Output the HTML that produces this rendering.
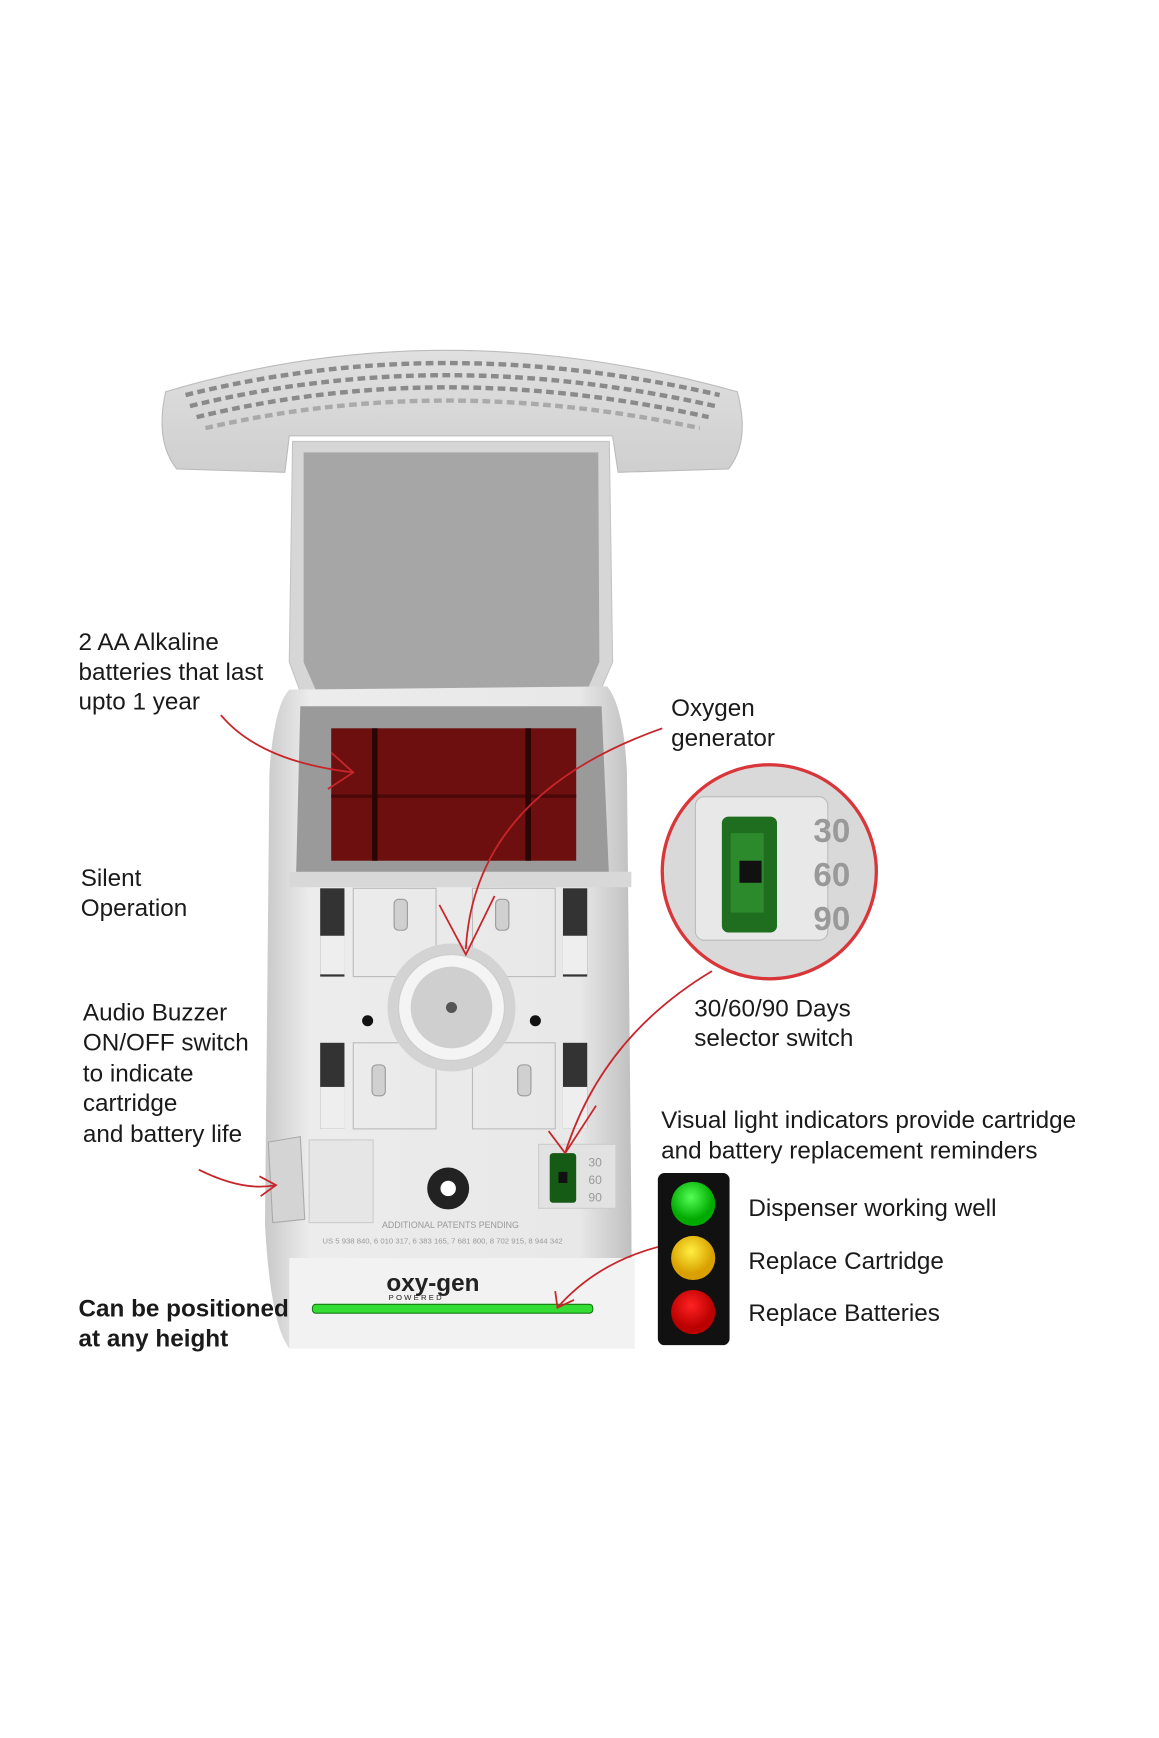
<!DOCTYPE html>
<html><head><meta charset="utf-8"><style>
html,body{margin:0;padding:0;background:#fff;}
svg{display:block;}
text{font-family:"Liberation Sans",sans-serif;fill:#1a1a1a;}
</style></head><body>
<svg width="1159" height="1738" viewBox="0 0 1050 1575" xmlns="http://www.w3.org/2000/svg">
<defs>
<linearGradient id="body" x1="0" x2="1"><stop offset="0" stop-color="#c9c9c9"/><stop offset="0.12" stop-color="#ececec"/><stop offset="0.85" stop-color="#e8e8e8"/><stop offset="1" stop-color="#bdbdbd"/></linearGradient>
<linearGradient id="grill" x1="0" y1="0" x2="0" y2="1"><stop offset="0" stop-color="#e0e0e0"/><stop offset="1" stop-color="#cfcfcf"/></linearGradient>
<radialGradient id="g" cx="0.45" cy="0.35"><stop offset="0" stop-color="#5f5"/><stop offset="1" stop-color="#0a0"/></radialGradient>
<radialGradient id="y" cx="0.45" cy="0.35"><stop offset="0" stop-color="#ffef40"/><stop offset="1" stop-color="#d9a000"/></radialGradient>
<radialGradient id="r" cx="0.45" cy="0.35"><stop offset="0" stop-color="#f22"/><stop offset="1" stop-color="#b00"/></radialGradient>
<clipPath id="cc"><circle cx="697" cy="790" r="97"/></clipPath>
</defs>
<!-- grille -->
<path d="M150 355 Q400 280 668 355 Q680 400 660 425 L560 428 L555 395 L262 395 L258 428 L160 425 Q140 400 150 355Z" fill="url(#grill)" stroke="#bbb"/>
<g stroke="#8a8a8a" stroke-width="4" fill="none">
<path d="M168 358 Q400 300 652 358" stroke-dasharray="7 4"/>
<path d="M172 368 Q400 312 648 368" stroke-dasharray="7 4"/>
<path d="M178 378 Q400 324 642 378" stroke-dasharray="7 4"/>
<path d="M186 388 Q400 338 634 388" stroke-dasharray="7 4" opacity=".6"/>
</g>
<!-- lid -->
<path d="M265 400 L552 400 L555 600 L540 635 L275 635 L262 600Z" fill="#d6d6d6" stroke="#c4c4c4"/>
<path d="M275 410 L542 410 L543 600 L530 630 L288 630 L275 600Z" fill="#a6a6a6"/>
<!-- body -->
<path d="M262 625 Q248 640 244 700 L240 1110 Q245 1200 262 1222 L575 1222 Q572 1180 572 1100 L568 700 Q565 640 550 622Z" fill="url(#body)"/>
<!-- battery compartment -->
<path d="M272 640 L545 640 L552 800 L268 800Z" fill="#9a9a9a"/>
<rect x="300" y="660" width="222" height="120" fill="#6e0f0f"/>
<rect x="300" y="720" width="222" height="3" fill="#4a0808"/>
<rect x="337" y="660" width="5" height="120" fill="#2a0505"/>
<rect x="476" y="660" width="5" height="120" fill="#2a0505"/>
<rect x="262" y="790" width="310" height="14" fill="#d8d8d8"/>
<!-- clips area -->
<rect x="290" y="805" width="22" height="80" fill="#333"/><rect x="290" y="848" width="22" height="35" fill="#eee"/>
<rect x="510" y="805" width="22" height="80" fill="#333"/><rect x="510" y="848" width="22" height="35" fill="#eee"/>
<rect x="290" y="945" width="22" height="78" fill="#333"/><rect x="290" y="985" width="22" height="38" fill="#eee"/>
<rect x="510" y="945" width="22" height="78" fill="#333"/><rect x="510" y="985" width="22" height="38" fill="#eee"/>
<rect x="320" y="805" width="75" height="80" fill="none" stroke="#bbb"/>
<rect x="428" y="805" width="75" height="80" fill="none" stroke="#bbb"/>
<rect x="320" y="945" width="75" height="78" fill="none" stroke="#bbb"/>
<rect x="428" y="945" width="75" height="78" fill="none" stroke="#bbb"/>
<rect x="357" y="815" width="12" height="28" rx="4" fill="#d0d0d0" stroke="#999"/>
<rect x="449" y="815" width="12" height="28" rx="4" fill="#d0d0d0" stroke="#999"/>
<rect x="337" y="965" width="12" height="28" rx="4" fill="#d0d0d0" stroke="#999"/>
<rect x="469" y="965" width="12" height="28" rx="4" fill="#d0d0d0" stroke="#999"/>
<circle cx="409" cy="913" r="58" fill="#d3d3d3"/>
<circle cx="409" cy="913" r="48" fill="#f4f4f4" stroke="#ccc"/>
<circle cx="409" cy="913" r="37" fill="#cfcfcf"/>
<circle cx="409" cy="913" r="5" fill="#555"/>
<circle cx="333" cy="925" r="5" fill="#111"/><circle cx="485" cy="925" r="5" fill="#111"/>
<!-- lower panel -->
<rect x="280" y="1033" width="58" height="75" fill="#e6e6e6" stroke="#ccc"/>
<path d="M243 1035 L272 1030 L276 1105 L247 1108Z" fill="#d4d4d4" stroke="#aaa"/>
<circle cx="406" cy="1077" r="19" fill="#222"/><circle cx="406" cy="1077" r="7" fill="#fff"/>
<rect x="488" y="1037" width="70" height="58" fill="#e2e2e2" stroke="#ccc"/>
<rect x="498" y="1045" width="24" height="45" rx="3" fill="#155a15"/>
<rect x="506" y="1062" width="8" height="10" fill="#111"/>
<text x="533" y="1057" font-size="11" style="fill:#999">30</text>
<text x="533" y="1073" font-size="11" style="fill:#999">60</text>
<text x="533" y="1089" font-size="11" style="fill:#999">90</text>
<text x="346" y="1113" font-size="8" style="fill:#999">ADDITIONAL PATENTS PENDING</text>
<text x="292" y="1127" font-size="7" style="fill:#999">US 5 938 840, 6 010 317, 6 383 165, 7 681 800, 8 702 915, 8 944 342</text>
<rect x="262" y="1140" width="313" height="82" fill="#f2f2f2"/>
<text x="350" y="1170" font-size="22" font-weight="bold" style="fill:#222">oxy-gen</text>
<text x="352" y="1178" font-size="7" letter-spacing="2" style="fill:#222">POWERED</text>
<rect x="283" y="1182" width="254" height="8" rx="3" fill="#33dd33" stroke="#157a15"/>
<!-- magnified circle -->
<g clip-path="url(#cc)">
<rect x="590" y="690" width="220" height="200" fill="#d9d9d9"/>
<rect x="630" y="722" width="120" height="130" rx="8" fill="#e8e8e8" stroke="#bbb"/>
<rect x="654" y="740" width="50" height="105" rx="6" fill="#1f6e1f"/>
<rect x="662" y="755" width="30" height="72" fill="#2c8a2c"/>
<rect x="670" y="780" width="20" height="20" fill="#111"/>
<text x="737" y="763" font-size="30" font-weight="bold" style="fill:#999">30</text>
<text x="737" y="803" font-size="30" font-weight="bold" style="fill:#999">60</text>
<text x="737" y="843" font-size="30" font-weight="bold" style="fill:#999">90</text>
</g>
<circle cx="697" cy="790" r="97" fill="none" stroke="#d9363a" stroke-width="3"/>
<!-- traffic light -->
<rect x="596" y="1063" width="65" height="156" rx="6" fill="#111"/>
<circle cx="628" cy="1091" r="20" fill="url(#g)"/>
<circle cx="628" cy="1140" r="20" fill="url(#y)"/>
<circle cx="628" cy="1189" r="20" fill="url(#r)"/>
<!-- arrows -->
<g fill="none" stroke="#c8252a" stroke-width="1.6">
<path d="M200 648 Q235 690 320 700"/><path d="M300 682 L320 700 L297 715"/>
<path d="M600 660 Q430 720 422 860"/><path d="M398 820 L422 865 L448 812"/>
<path d="M645 880 Q545 940 512 1045"/><path d="M497 1025 L512 1045 L540 1002"/>
<path d="M180 1060 Q220 1080 250 1074"/><path d="M235 1066 L250 1074 L236 1084"/>
<path d="M596 1130 Q540 1145 505 1185"/><path d="M503 1170 L505 1185 L520 1178"/>
</g>
<!-- labels -->
<g font-size="22">
<text x="71" y="589">2 AA Alkaline</text>
<text x="71" y="616">batteries that last</text>
<text x="71" y="643">upto 1 year</text>
<text x="608" y="649">Oxygen</text>
<text x="608" y="676">generator</text>
<text x="73" y="803">Silent</text>
<text x="73" y="830">Operation</text>
<text x="75" y="925">Audio Buzzer</text>
<text x="75" y="952">ON/OFF switch</text>
<text x="75" y="980">to indicate</text>
<text x="75" y="1007">cartridge</text>
<text x="75" y="1035">and battery life</text>
<text x="629" y="921">30/60/90 Days</text>
<text x="629" y="948">selector switch</text>
<text x="599" y="1022">Visual light indicators provide cartridge</text>
<text x="599" y="1050">and battery replacement reminders</text>
<text x="678" y="1102">Dispenser working well</text>
<text x="678" y="1150">Replace Cartridge</text>
<text x="678" y="1197">Replace Batteries</text>
<text x="71" y="1193" font-weight="bold">Can be positioned</text>
<text x="71" y="1220" font-weight="bold">at any height</text>
</g>
</svg>
</body></html>
